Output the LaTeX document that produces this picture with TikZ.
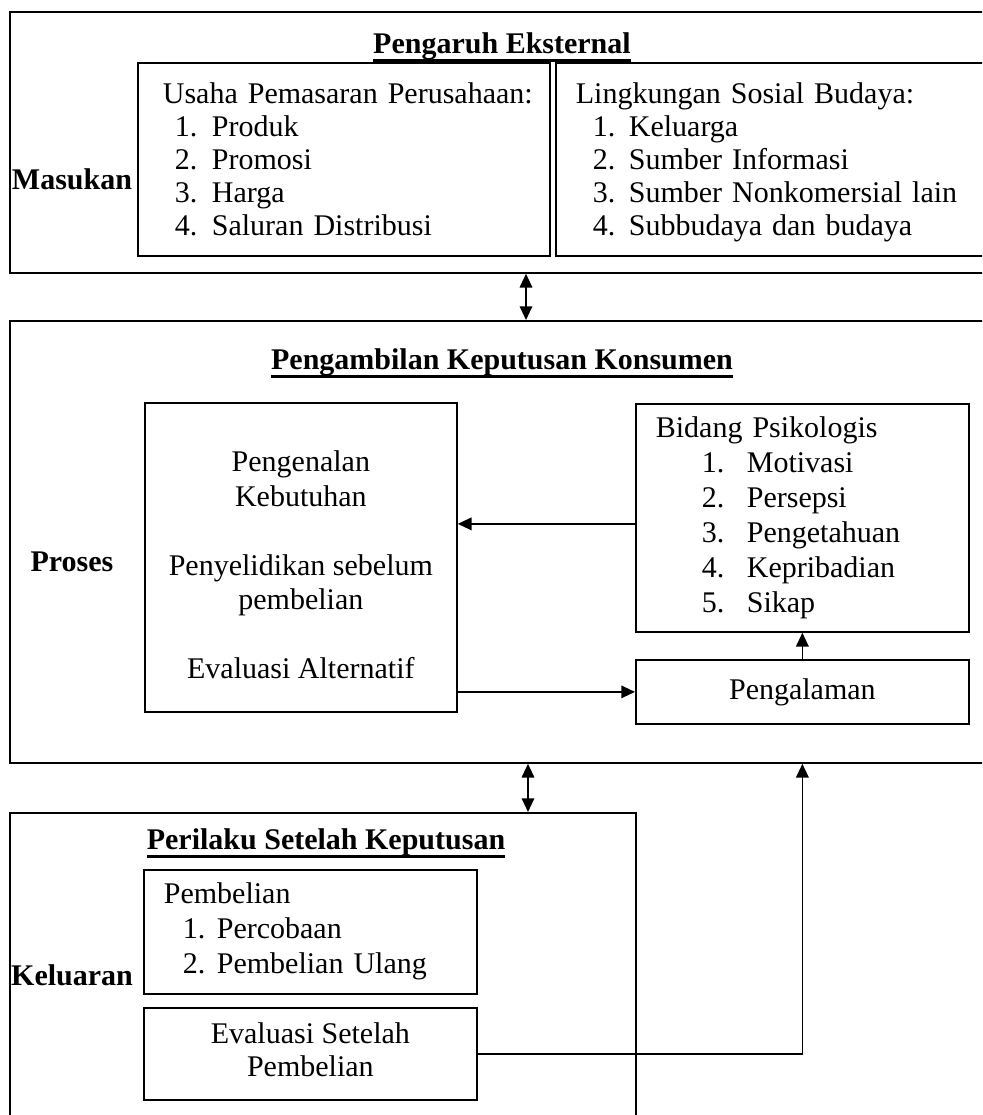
\documentclass[tikz,border=0pt]{standalone}
\usepackage{fontspec}
\setmainfont{Liberation Serif}
\usetikzlibrary{arrows.meta}

\newlength\pxu
\setlength\pxu{0.4pt}
\newcommand{\judul}[1]{\setbox0=\hbox{\bfseries #1}\rlap{\copy0}\rule[-3.4pt]{\wd0}{1pt}}
\newcommand{\baris}[1]{\hspace*{#1\pxu}}
\newcommand{\butir}[3]{\hspace*{#1\pxu}\makebox[#2\pxu][l]{#3}}

\begin{document}
\begin{tikzpicture}[x=\pxu, y=-\pxu, >={Triangle[length=5.5pt,width=5pt]}, line width=0.7pt,
    font=\fontsize{12}{13.2}\selectfont,
    frame/.style={draw, anchor=north west, inner sep=0pt},
    box/.style={draw, anchor=north west, inner sep=0pt},
    listbox/.style={box, align=left},
    tajuk/.style={font=\fontsize{12}{13.2}\selectfont\bfseries, anchor=base},
    line/.style={draw, ->}]

    \useasboundingbox (0,0) rectangle (982,1115);
    \clip (0,0) rectangle (982,1115);

    % masukan
    \node [frame, minimum width=400pt, minimum height=104.4pt] (eksternal) at (9,11) {};
    \node [tajuk] (judulmasuk) at (502,53) {\judul{Pengaruh Eksternal}};
    \node [tajuk] (masukan) at (72,189) {Masukan};
    \node [listbox, text width=164.8pt, minimum height=77.2pt] (usaha) at (137,62)
        {\baris{25}\rule{0pt}{12pt}Usaha Pemasaran Perusahaan:\\
         \butir{37}{37}{1.}Produk\strut\\
         \butir{37}{37}{2.}Promosi\strut\\
         \butir{37}{37}{3.}Harga\strut\\
         \butir{37}{37}{4.}Saluran Distribusi\strut};
    \node [listbox, text width=184pt, minimum height=77.2pt] (sosial) at (555,62)
        {\baris{20}\rule{0pt}{12pt}Lingkungan Sosial Budaya:\\
         \butir{37}{36}{1.}Keluarga\strut\\
         \butir{37}{36}{2.}Sumber Informasi\strut\\
         \butir{37}{36}{3.}Sumber Nonkomersial lain\strut\\
         \butir{37}{36}{4.}Subbudaya dan budaya\strut};

    % proses
    \node [frame, minimum width=400pt, minimum height=176.8pt] (proses) at (9,320) {};
    \node [tajuk] (judulproses) at (502,369) {\judul{Pengambilan Keputusan Konsumen}};
    \node [tajuk] (lblproses) at (72,571) {Proses};
    \node [box, align=center, font=\fontsize{12}{13.8}\selectfont, minimum width=124.8pt, minimum height=123.6pt] (kenal) at (144,402)
        {\rule{0pt}{18.5pt}Pengenalan\\Kebutuhan\strut\\\strut\\
         Penyelidikan sebelum\strut\\pembelian\strut\\\strut\\
         Evaluasi Alternatif\strut};
    \node [listbox, font=\fontsize{12}{14}\selectfont, text width=133.2pt, minimum height=91.2pt] (bidang) at (635,403)
        {\baris{20}Bidang Psikologis\strut\\
         \butir{66}{45}{1.}Motivasi\strut\\
         \butir{66}{45}{2.}Persepsi\strut\\
         \butir{66}{45}{3.}Pengetahuan\strut\\
         \butir{66}{45}{4.}Kepribadian\strut\\
         \butir{66}{45}{5.}Sikap\strut};
    \node [box, minimum width=133.2pt, minimum height=25.6pt] (alaman) at (635,659) {Pengalaman};

    % keluaran
    \node [frame, minimum width=250.4pt, minimum height=160pt] (perilaku) at (9,812) {};
    \node [tajuk] (judulkeluar) at (326,849) {\judul{Perilaku Setelah Keputusan}};
    \node [tajuk] (keluaran) at (72,985) {Keluaran};
    \node [listbox, font=\fontsize{12}{14}\selectfont, text width=133.2pt, minimum height=49.6pt] (pembelian) at (143,869)
        {\baris{20}Pembelian\strut\\
         \butir{39}{34}{1.}Percobaan\strut\\
         \butir{39}{34}{2.}Pembelian Ulang\strut};
    \node [box, align=center, minimum width=133.2pt, minimum height=36.8pt] (evaluasi) at (143,1007)
        {Evaluasi Setelah\strut\\Pembelian\strut};

    \coordinate (atas) at (526,0);
    \coordinate (bawah) at (528,0);
    \draw [<->] (atas |- eksternal.south) -- (atas |- proses.north);
    \draw [<->] (bawah |- proses.south) -- (bawah |- perilaku.north);
    \path [line] ([yshift=-2.4pt]bidang.west) -- ([yshift=-2.4pt]bidang.west -| kenal.east);
    \path [line] (alaman.west -| kenal.east) -- (alaman.west);
    \path [line] (alaman.north) -- (bidang.south);
    \path [line] (evaluasi.east) -| (alaman.south |- proses.south);
\end{tikzpicture}
\end{document}
